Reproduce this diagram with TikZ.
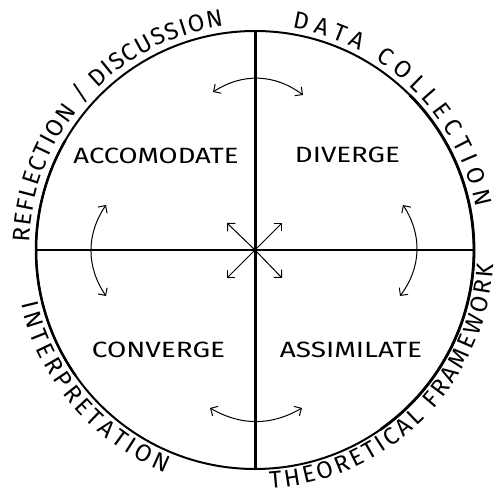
\documentclass[tikz,border=0pt]{standalone}
\usepackage{fontspec}
\usepackage{graphicx}
\setmainfont{Fira Sans}
\usetikzlibrary{arrows.meta,decorations.text}
\newcommand\cfont{\fontsize{24}{24}\selectfont}
\tikzset{
  ring/.style={line width=2pt},
  tipstyle/.tip={Straight Barb[length=5.5pt,width=11pt]},
  twoway/.style={line width=1pt, tipstyle-tipstyle},
  oneway/.style={line width=1pt, -tipstyle},
  quad/.style={inner sep=0pt},
  curvetext/.style={decorate, decoration={text along path, text align={fit to path}, text={#1}}},
}
\begin{document}
\begin{tikzpicture}[x=1pt,y=1pt]
  \useasboundingbox (0,0) rectangle (498,493);
  \coordinate (c) at (255,243);
  \coordinate (N) at (255,462);
  \coordinate (S) at (255,24);
  \coordinate (W) at (36,243);
  \coordinate (E) at (474,243);
  % ring
  \draw[ring] (c) circle[radius=219];
  \draw[line width=2.8pt] (c) ++(-55:219) arc[start angle=-55, end angle=45, radius=219];
  \draw[line width=2.5pt] (c) ++(150:219) arc[start angle=150, end angle=215, radius=219];
  % axes
  \draw[line width=2.3pt] (W) -- (E);
  \draw[line width=3pt] (N) -- (S);
  % quadrant labels
  \node[quad] (acc) at (156,337.5) {\resizebox{165pt}{15.5pt}{ACCOMODATE}};
  \node[quad] (div) at (347.5,338) {\resizebox{105pt}{15.5pt}{DIVERGE}};
  \node[quad] (con) at (158.5,143) {\resizebox{133pt}{15.5pt}{CONVERGE}};
  \node[quad] (ass) at (351,143) {\resizebox{142pt}{15.5pt}{ASSIMILATE}};
  % curved outer labels
  \begin{scope}
    \cfont
    \path[curvetext={|\cfont|REFLECTION / DISCUSSION}]
      (c) ++(178:226) arc[start angle=178, end angle=98, radius=226];
    \path[curvetext={|\cfont|DATA COLLECTION}]
      (c) ++(80.5:225) arc[start angle=80.5, end angle=11, radius=225];
    \path[curvetext={|\cfont|INTERPRETATION}]
      (c) ++(193:240) arc[start angle=193, end angle=248, radius=240];
    \path[curvetext={|\cfont|THEORETICAL FRAMEWORK}]
      (c) ++(273.6:239) arc[start angle=273.6, end angle=356.5, radius=239];
  \end{scope}
  % curved double arrows
  \coordinate (ta) at (213,401);
  \coordinate (tb) at (303,398);
  \coordinate (ra) at (403,288);
  \coordinate (rb) at (400,197);
  \coordinate (ba) at (302,85);
  \coordinate (bb) at (210,85);
  \coordinate (la) at (106,197);
  \coordinate (lb) at (106,288);
  \draw[twoway] (ta) to[bend left=35] (tb);
  \draw[twoway] (ra) to[bend left=35] (rb);
  \draw[twoway] (ba) to[bend left=30] (bb);
  \draw[twoway] (la) to[bend left=34] (lb);
  % central arrows
  \coordinate (d1) at (282,270);
  \coordinate (d2) at (227,270);
  \coordinate (d3) at (227,215);
  \coordinate (d4) at (282,215);
  \draw[oneway] (c) -- (d1);
  \draw[oneway] (c) -- (d2);
  \draw[oneway] (c) -- (d3);
  \draw[oneway] (c) -- (d4);
\end{tikzpicture}
\end{document}
